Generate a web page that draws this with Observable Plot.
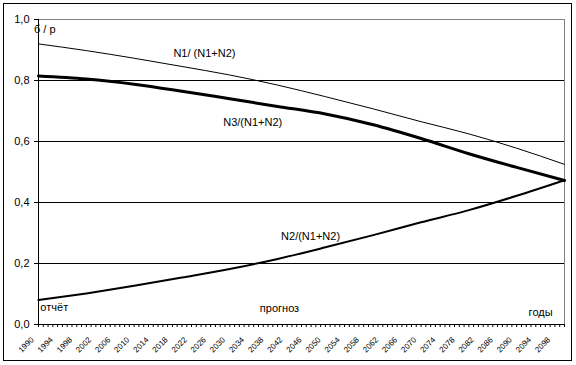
<!DOCTYPE html>
<html><head><meta charset="utf-8">
<script src="https://cdn.jsdelivr.net/npm/d3@7"></script>
<script src="https://cdn.jsdelivr.net/npm/@observablehq/plot@0.6"></script>
<style>
body{margin:0;background:#fff;}
#wrap{position:relative;width:576px;height:365px;}
#frame{position:absolute;left:3px;top:3px;width:567px;height:356px;border:1px solid #000;pointer-events:none;}
</style></head>
<body><div id="wrap"><div id="frame"></div></div>
<script>
const years = [1990, 2000, 2010, 2020, 2030, 2040, 2050, 2060, 2070, 2080, 2090, 2100];
const n1Share = [0.920, 0.898, 0.873, 0.846, 0.818, 0.785, 0.747, 0.707, 0.665, 0.625, 0.578, 0.525];
const n2Share = [0.080, 0.102, 0.127, 0.154, 0.182, 0.215, 0.253, 0.293, 0.335, 0.375, 0.422, 0.473];
const n3Share = [0.815, 0.805, 0.788, 0.765, 0.740, 0.715, 0.690, 0.655, 0.610, 0.560, 0.515, 0.472];
const yTicks = [0, 0.2, 0.4, 0.6, 0.8, 1.0];
const xLabelTicks = d3.range(1990, 2099, 4);
const xMinorTicks = d3.range(1990, 2101, 1);
const labels = [
  {x: 1991.3, y: 0.967, text: "б / р", anchor: "start"},
  {x: 2024.7, y: 0.889, text: "N1/ (N1+N2)", anchor: "middle"},
  {x: 2034.8, y: 0.661, text: "N3/(N1+N2)", anchor: "middle"},
  {x: 2046.9, y: 0.287, text: "N2/(N1+N2)", anchor: "middle"},
  {x: 1993.3, y: 0.056, text: "отчёт", anchor: "middle"},
  {x: 2040.4, y: 0.052, text: "прогноз", anchor: "middle"},
  {x: 2095.0, y: 0.041, text: "годы", anchor: "middle"}
];
const rows = (vals) => years.map((x, i) => ({x, y: vals[i]}));

const chart = Plot.plot({
  width: 576, height: 365,
  marginLeft: 38, marginRight: 12, marginTop: 19, marginBottom: 41,
  style: {fontFamily: "'Liberation Sans', Arial, sans-serif", background: "transparent", color: "#000"},
  x: {domain: [1990, 2100]},
  y: {domain: [0, 1]},
  marks: [
    Plot.ruleY([0.2, 0.4, 0.6, 0.8], {stroke: "#000", strokeWidth: 1}),
    Plot.ruleY([1], {stroke: "#808080", strokeWidth: 1}),
    Plot.ruleX([2100], {stroke: "#808080", strokeWidth: 1}),
    Plot.line(rows(n1Share), {x: "x", y: "y", stroke: "#000", strokeWidth: 1, curve: "monotone-x"}),
    Plot.line(rows(n2Share), {x: "x", y: "y", stroke: "#000", strokeWidth: 2, curve: "monotone-x"}),
    Plot.line(rows(n3Share), {x: "x", y: "y", stroke: "#000", strokeWidth: 3, curve: "monotone-x"}),
    Plot.ruleY([0], {stroke: "#000", strokeWidth: 1}),
    Plot.ruleX([1990], {stroke: "#000", strokeWidth: 1}),
    Plot.axisY({ticks: yTicks, tickSize: 4, tickPadding: 5, fontSize: 11,
      tickFormat: d => d.toFixed(1).replace(".", ","), label: null}),
    Plot.axisX({ticks: xMinorTicks, tickSize: 3, tickFormat: () => "", label: null}),
    Plot.axisX({ticks: xLabelTicks, tickSize: 0, tickRotate: -45, tickPadding: 10, fontSize: 8,
      dx: -6, dy: 4, tickFormat: d => String(d), label: null}),
    Plot.text(labels, {x: "x", y: "y", text: "text", textAnchor: d => d.anchor, fontSize: 11, fill: "#000"})
  ]
});
document.getElementById("wrap").prepend(chart);
</script>
</body></html>
